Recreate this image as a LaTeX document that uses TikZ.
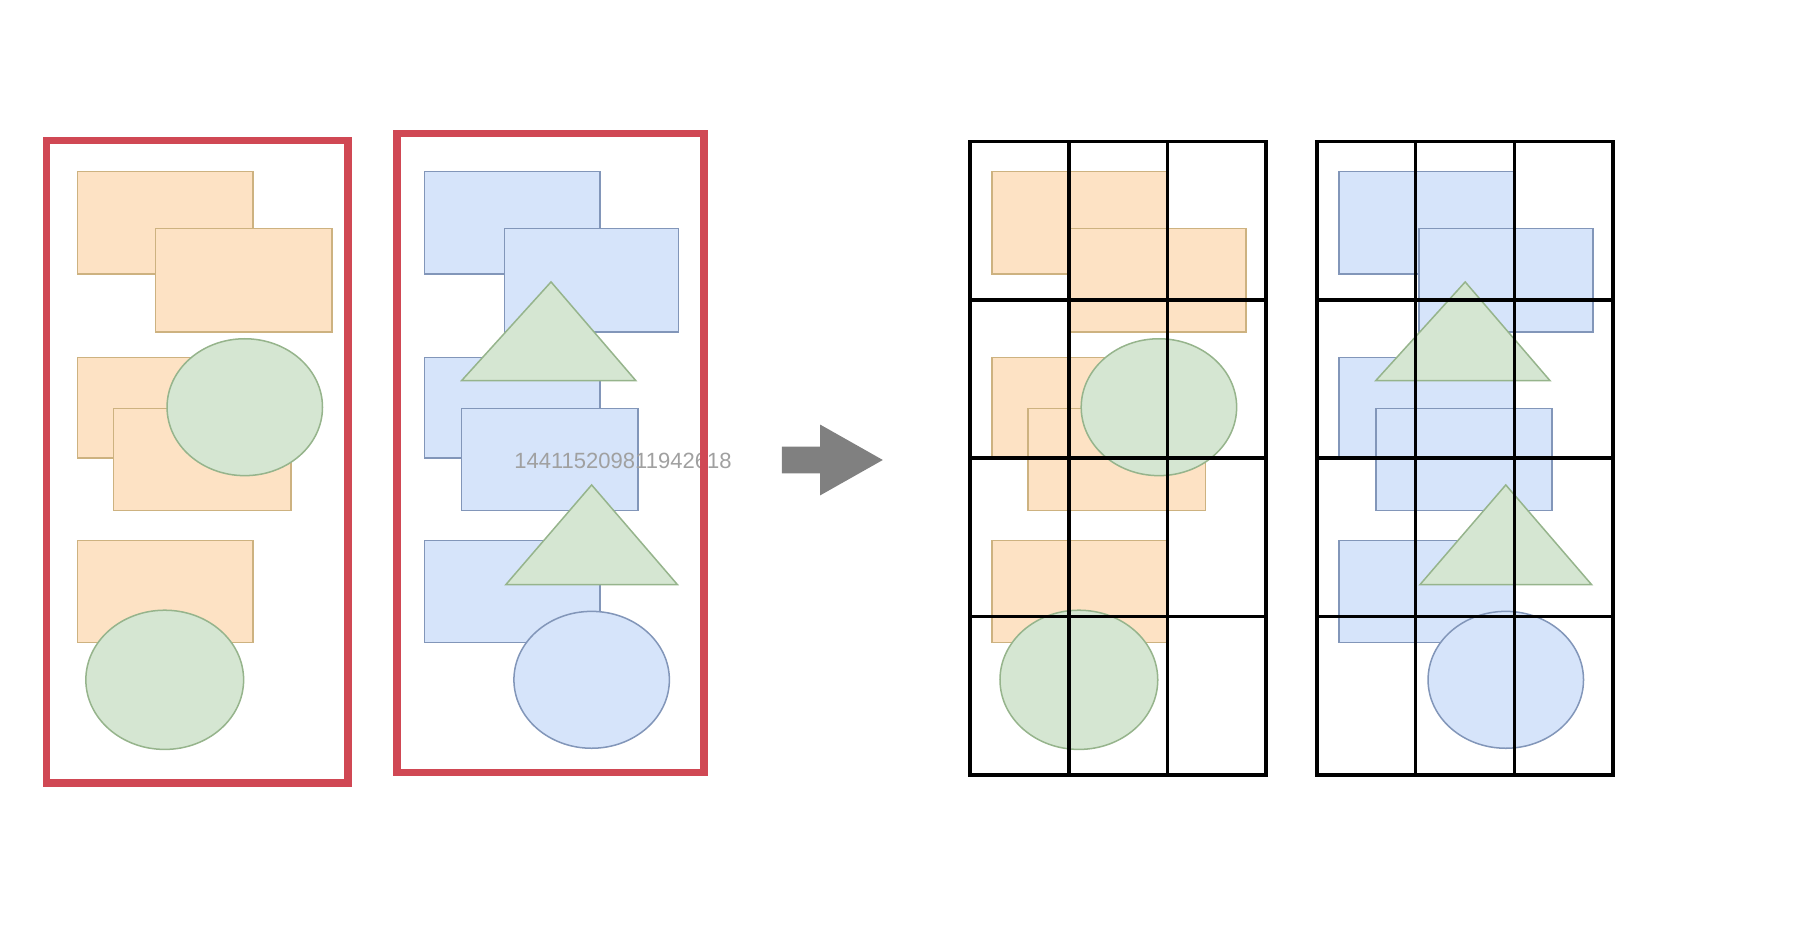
\documentclass[tikz,border=0pt]{standalone}
\usepackage{fontspec}
\setmainfont{Liberation Sans}
\usepackage{xcolor}
\usepackage{tikz}

\definecolor{framered}{RGB}{208,72,84}
\definecolor{orfill}{RGB}{253,226,196}
\definecolor{ordraw}{RGB}{205,178,128}
\definecolor{grfill}{RGB}{213,230,210}
\definecolor{grdraw}{RGB}{150,180,140}
\definecolor{blfill}{RGB}{214,228,250}
\definecolor{bldraw}{RGB}{130,150,185}
\definecolor{arrowgray}{RGB}{128,128,128}
\definecolor{stampgray}{RGB}{160,160,160}

\begin{document}
\begin{tikzpicture}[
            x=1pt, y=-1pt,
            frame/.style={draw=framered, line width=6.5pt},
            orangebox/.style={fill=orfill, draw=ordraw, line width=1.3pt},
            greenblob/.style={fill=grfill, draw=grdraw, line width=1.3pt},
            bluebox/.style={fill=blfill, draw=bldraw, line width=1.3pt},
            gridline/.style={draw=black, line width=3.2pt, line cap=rect},
            stamp/.style={text=stampgray, inner sep=0pt, font=\fontsize{19}{19}\selectfont}
        ]
        \useasboundingbox (0,0) rectangle (1568,814.6);

        % Orange group, then its copy in the grid
        \foreach \dx in {0,788} {
            \begin{scope}[xshift=\dx]
                \draw[orangebox] (67,148) rectangle (218,236);
                \draw[orangebox] (134,197) rectangle (286,286);
                \draw[orangebox] (67,308) rectangle (218,395);
                \draw[orangebox] (98,352) rectangle (251,440);
                \draw[greenblob] (211,351) ellipse [x radius=67pt, y radius=59pt];
                \draw[orangebox] (67,466) rectangle (218,554);
                \draw[greenblob] (142,586) ellipse [x radius=68pt, y radius=60pt];
            \end{scope}
        }

        % Blue group, then its copy in the grid
        \foreach \dx in {0,788} {
            \begin{scope}[xshift=\dx]
                \draw[bluebox] (366,148) rectangle (517,236);
                \draw[bluebox] (435,197) rectangle (585,286);
                \draw[bluebox] (366,308) rectangle (517,395);
                \draw[greenblob] (475,243) -- (548,328) -- (398,328) -- cycle;
                \draw[bluebox] (398,352) rectangle (550,440);
                \draw[bluebox] (366,466) rectangle (517,554);
                \draw[greenblob] (510,418) -- (584,504) -- (436,504) -- cycle;
                \draw[bluebox] (510,586) ellipse [x radius=67pt, y radius=59pt];
            \end{scope}
        }

        % Label
        \node[stamp] (idtag) at (537,397) {144115209811942618};

        % Frames
        \draw[frame] (40,121) rectangle (300,675);
        \draw[frame] (342,115) rectangle (607,666);

        % Arrow
        \fill[arrowgray] (674,385) -- (707,385) -- (707,366) -- (761,396.5)
            -- (707,427) -- (707,408) -- (674,408) -- cycle;

        % Grids
        \foreach \gx in {836,1135} {
            \draw[gridline] (\gx,122) rectangle (\gx+255.5,668);
            \foreach \i in {1,2}
                \draw[gridline] (\gx+\i*85.2,122) -- (\gx+\i*85.2,668);
            \foreach \j in {1,2,3}
                \draw[gridline] (\gx,122+\j*136.5) -- (\gx+255.5,122+\j*136.5);
        }

    \end{tikzpicture}
\end{document}
